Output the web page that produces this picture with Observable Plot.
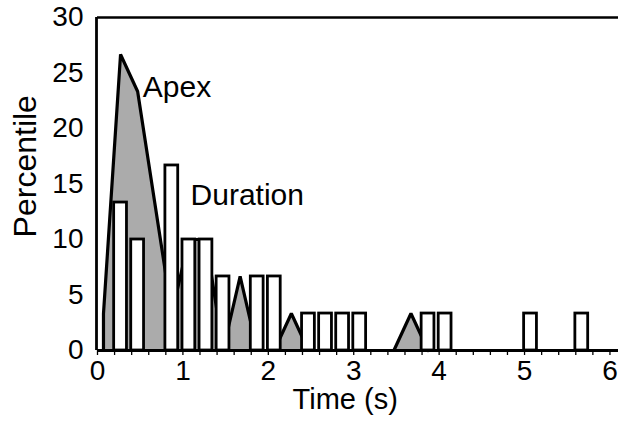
<!DOCTYPE html>
<html>
<head>
<meta charset="utf-8">
<script src="https://cdn.jsdelivr.net/npm/d3@7"></script>
<script src="https://cdn.jsdelivr.net/npm/@observablehq/plot@0.6"></script>
<style>
  html, body { margin: 0; padding: 0; background: #fff; }
  #chart { width: 618px; height: 430px; }
</style>
</head>
<body>
<div id="chart"></div>
<script>
// Apex distribution (shaded polygon)
const apexTime   = [0.07, 0.07, 0.27, 0.47, 0.67, 0.87, 1.07, 1.27, 1.47, 1.67, 1.87, 2.07, 2.27, 2.47, 2.67, 2.87, 3.07, 3.27, 3.47, 3.67, 3.87];
const apexValues = [0, 3.33, 26.67, 23.33, 13.33, 3.33, 10, 10, 0, 6.67, 0, 0, 3.33, 0, 0, 0, 0, 0, 0, 3.33, 0];

// Duration distribution (open bars)
const durTime   = [0.27, 0.47, 0.87, 1.07, 1.27, 1.47, 1.87, 2.07, 2.47, 2.67, 2.87, 3.07, 3.87, 4.07, 5.07, 5.67];
const durValues = [13.33, 10, 16.67, 10, 10, 6.67, 6.67, 6.67, 3.33, 3.33, 3.33, 3.33, 3.33, 3.33, 3.33, 3.33];

// Axis ticks
const xTickLabels = [0, 1, 2, 3, 4, 5, 6];
const xMinorTicks = d3.range(0, 31).map(i => i / 5);
const yTickLabels = [0, 5, 10, 15, 20, 25, 30];

const halfW = 0.075;
const apexIdx = d3.range(apexTime.length);
const durIdx = d3.range(durTime.length);

const chart = Plot.plot({
  width: 618,
  height: 430,
  marginLeft: 97,
  marginRight: 0,
  marginTop: 17,
  marginBottom: 80,
  style: { fontFamily: "Liberation Sans, Arial, sans-serif", fontSize: "28px", color: "#000", background: "#fff" },
  x: { domain: [0, 6.1], axis: null },
  y: { domain: [0, 30], axis: null },
  marks: [
    Plot.areaY(apexIdx, { x: i => apexTime[i], y: i => apexValues[i], fill: "#ababab" }),
    Plot.lineY(apexIdx, { x: i => apexTime[i], y: i => apexValues[i], stroke: "#000", strokeWidth: 3.2, strokeLinejoin: "miter" }),
    Plot.rectY(durIdx, { x1: i => durTime[i] - halfW, x2: i => durTime[i] + halfW, y1: 0, y2: i => durValues[i], fill: "#fff", stroke: "#000", strokeWidth: 2.8 }),
    Plot.ruleY([30], { stroke: "#000", strokeWidth: 2.6 }),
    Plot.ruleX([0], { y1: 0, y2: 30, stroke: "#000", strokeWidth: 2.8, dx: -1 }),
    Plot.axisX(xMinorTicks, { tickSize: 5, tickFormat: () => "", strokeWidth: 1.3 }),
    Plot.ruleY([0], { stroke: "#000", strokeWidth: 3.2 }),
    Plot.axisX(xTickLabels, { tickSize: 0, tickPadding: 10, fontSize: 28 }),
    Plot.axisY(yTickLabels, { tickSize: 0, tickPadding: 14, fontSize: 28 }),
    Plot.text(["Apex"], { x: [0.53], y: [22.8], text: d => d, textAnchor: "start", lineAnchor: "bottom", fontSize: 30, fill: "#000" }),
    Plot.text(["Duration"], { x: [1.09], y: [13.15], text: d => d, textAnchor: "start", lineAnchor: "bottom", fontSize: 30, fill: "#000" }),
    Plot.text(["Time (s)"], { x: [2.9], y: [-5.3], text: d => d, textAnchor: "middle", lineAnchor: "bottom", fontSize: 29, fill: "#000" }),
    Plot.text(["Percentile"], { frameAnchor: "left", y: [16.6], text: d => d, rotate: -90, dx: -62, textAnchor: "middle", lineAnchor: "bottom", fontSize: 32, fill: "#000" })
  ]
});
document.getElementById("chart").appendChild(chart);
</script>
</body>
</html>
